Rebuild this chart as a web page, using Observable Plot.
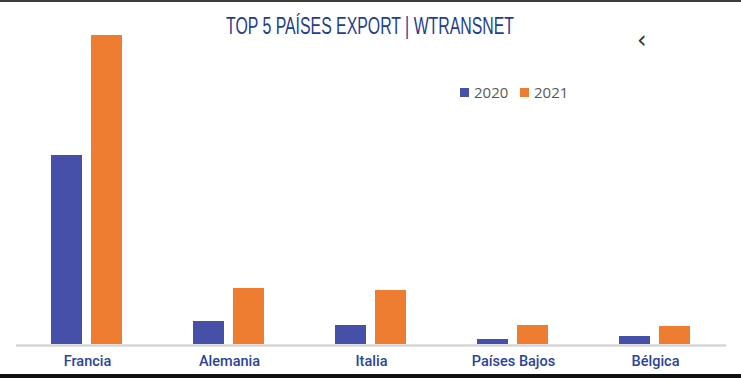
<!DOCTYPE html>
<html>
<head>
<meta charset="utf-8">
<script src="https://cdn.jsdelivr.net/npm/d3@7"></script>
<script src="https://cdn.jsdelivr.net/npm/@observablehq/plot@0.6"></script>
<style>
  html, body { margin: 0; padding: 0; background: #fff; }
  #frame { position: relative; width: 741px; height: 378px; overflow: hidden; background: #fff; }
  #topline { height: 2px; background: #3c3c3c; }
  #title { height: 30px; position: relative; }
  #title span { position: absolute; top: 13px; left: 370px; white-space: nowrap; font-family: "Liberation Sans Narrow", "Liberation Sans", sans-serif; font-size: 23px; line-height: 23px; color: #1f3d92; transform-origin: 0 0; }
  #chart svg { display: block; background: transparent; }
  #bottomline { height: 4px; background: #111; }
  .leg { position: absolute; font-family: "Open Sans", sans-serif; font-size: 15px; color: #595959; line-height: 15px; }
  .sw { position: absolute; width: 9px; height: 9px; }
  #chev { position: absolute; left: 637px; top: 28px; font-family: "DejaVu Sans", sans-serif; font-size: 24px; line-height: 24px; color: #333; }
</style>
</head>
<body>
<div id="frame">
  <div id="topline"></div>
  <div id="title"><span id="titletext"></span></div>
  <div id="chart"></div>
  <div id="bottomline"></div>
  <div id="legend"></div>
  <div id="chev">‹</div>
</div>
<script>
const titleText = "TOP 5 PAÍSES EXPORT | WTRANSNET";
const countries = ["Francia", "Alemania", "Italia", "Países Bajos", "Bélgica"];
const years = ["2020", "2021"];
const values2020 = [189, 23, 19, 5, 8];
const values2021 = [309, 56, 54, 19, 18];
const colors = ["#4750a8", "#ee7d31"];

// title
const t = document.getElementById("titletext");
t.textContent = titleText;
const w = t.getBoundingClientRect().width;
const targetW = 288;
t.style.transform = `translateX(${-targetW / 2}px) scaleX(${targetW / w})`;

const data = countries.flatMap((c, i) => [
  {country: c, year: years[0], value: values2020[i]},
  {country: c, year: years[1], value: values2021[i]}
]);

const chart = Plot.plot({
  width: 741,
  height: 342,
  marginLeft: 14,
  marginRight: 14,
  marginTop: 3,
  marginBottom: 30,
  style: {background: "transparent", fontFamily: "Roboto, sans-serif"},
  fx: {domain: countries, padding: 0, label: null},
  x: {domain: years, paddingInner: 0.22, paddingOuter: 0.85, axis: null},
  y: {domain: [0, 309], axis: null},
  color: {domain: years, range: colors},
  marks: [
    Plot.ruleY([0], {stroke: "#d6d6d6", strokeWidth: 2.5, dy: 1}),
    Plot.barY(data, {fx: "country", x: "year", y: "value", fill: "year"}),
    Plot.axisFx({anchor: "bottom", tickSize: 0, tickPadding: 11, label: null, fill: "#2b43a0", fontSize: 14.5, fontWeight: 500})
  ]
});
document.getElementById("chart").appendChild(chart);

// legend
const legend = document.getElementById("legend");
const legX = [460, 520];
years.forEach((y, i) => {
  const sw = document.createElement("div");
  sw.className = "sw";
  sw.style.left = legX[i] + "px";
  sw.style.top = "88px";
  sw.style.background = colors[i];
  legend.appendChild(sw);
  const tx = document.createElement("div");
  tx.className = "leg";
  tx.style.left = (legX[i] + 14) + "px";
  tx.style.top = "85px";
  tx.textContent = y;
  legend.appendChild(tx);
});
</script>
</body>
</html>
